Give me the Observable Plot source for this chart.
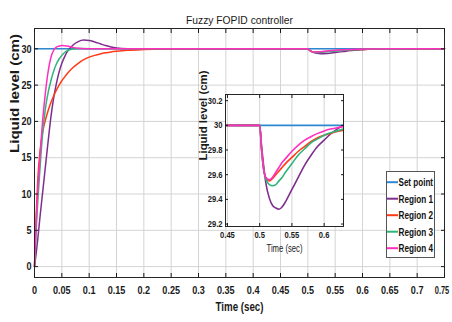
<!DOCTYPE html>
<html><head><meta charset="utf-8">
<script src="https://cdn.jsdelivr.net/npm/d3@7"></script>
<script src="https://cdn.jsdelivr.net/npm/@observablehq/plot@0.6"></script>
<style>
body{margin:0;background:#fff;}
#wrap{position:relative;width:452px;height:322px;overflow:hidden;font-family:"Liberation Sans",Arial,sans-serif;}
#wrap svg{position:absolute;overflow:visible;}
</style></head><body><div id="wrap"></div>
<script>
const time = [0, 0.003, 0.006, 0.01, 0.015, 0.02, 0.025, 0.03, 0.035, 0.04, 0.045, 0.05, 0.055, 0.06, 0.07, 0.08, 0.09, 0.1, 0.11, 0.12, 0.13, 0.14, 0.15, 0.17, 0.2, 0.25, 0.3, 0.4, 0.5, 0.503, 0.506, 0.51, 0.515, 0.52, 0.525, 0.53, 0.535, 0.54, 0.55, 0.56, 0.57, 0.58, 0.59, 0.6, 0.61, 0.62, 0.63, 0.65, 0.7, 0.75];
const setPointTime = [0, 0.75];
const setPointLevel = [30, 30];
const region1 = [0, 1.8, 3.8, 6.8, 10.3, 13.8, 17.3, 20.6, 23.2, 25.2, 26.8, 28.0, 28.9, 29.6, 30.5, 31.0, 31.2, 31.15, 30.95, 30.7, 30.45, 30.25, 30.12, 30.02, 30, 30, 30, 30, 30, 29.83, 29.68, 29.52, 29.41, 29.35, 29.33, 29.32, 29.34, 29.38, 29.48, 29.58, 29.68, 29.76, 29.83, 29.88, 29.93, 29.97, 30.0, 30.02, 30.0, 30];
const region2 = [0, 7, 12, 15.8, 18.6, 20.2, 21.5, 22.6, 23.5, 24.3, 25.0, 25.6, 26.1, 26.6, 27.4, 28.0, 28.5, 28.85, 29.1, 29.3, 29.45, 29.57, 29.66, 29.8, 29.9, 29.97, 30, 30, 30, 29.8, 29.65, 29.57, 29.55, 29.57, 29.6, 29.63, 29.66, 29.69, 29.74, 29.79, 29.83, 29.87, 29.9, 29.92, 29.935, 29.95, 29.96, 29.97, 29.99, 30];
const region3 = [0, 5, 9, 13.5, 18.5, 21.8, 24.0, 25.6, 26.9, 27.9, 28.6, 29.1, 29.5, 29.75, 29.98, 30.05, 30.04, 30.02, 30.01, 30, 30, 30, 30, 30, 30, 30, 30, 30, 30, 29.8, 29.65, 29.56, 29.52, 29.51, 29.52, 29.55, 29.58, 29.62, 29.69, 29.76, 29.81, 29.86, 29.89, 29.92, 29.94, 29.955, 29.97, 29.98, 30, 30];
const region4 = [0, 6, 10.5, 15, 20.2, 24.0, 26.9, 28.8, 29.8, 30.25, 30.38, 30.45, 30.43, 30.38, 30.2, 30.08, 30.02, 30, 30, 30, 30, 30, 30, 30, 30, 30, 30, 30, 30, 29.8, 29.65, 29.575, 29.56, 29.58, 29.62, 29.66, 29.7, 29.73, 29.79, 29.84, 29.88, 29.91, 29.935, 29.955, 29.97, 29.98, 29.99, 30, 30, 30];
const seriesNames = ["Set point", "Region 1", "Region 2", "Region 3", "Region 4"];
const seriesColors = ["#2f88d2", "#7e2f8e", "#ff3b16", "#2fb57c", "#ff2fc0"];
const xTicks = [0, 0.05, 0.1, 0.15, 0.2, 0.25, 0.3, 0.35, 0.4, 0.45, 0.5, 0.55, 0.6, 0.65, 0.7, 0.75];
const xTickLabels = ["0", "0.05", "0.1", "0.15", "0.2", "0.25", "0.3", "0.35", "0.4", "0.45", "0.5", "0.55", "0.6", "0.65", "0.7", "0.75"];
const yTicks = [0, 5, 10, 15, 20, 25, 30];
const yTickLabels = ["0", "5", "10", "15", "20", "25", "30"];
const insetXTicks = [0.45, 0.5, 0.55, 0.6];
const insetXTickLabels = ["0.45", "0.5", "0.55", "0.6"];
const insetYTicks = [29.2, 29.4, 29.6, 29.8, 30, 30.2];
const insetYTickLabels = ["29.2", "29.4", "29.6", "29.8", "30", "30.2"];
const titleText = "Fuzzy FOPID controller";
const xLabel = "Time (sec)";
const yLabel = "Liquid level (cm)";

const FONT = '"Liberation Sans",Arial,sans-serif';
const rows = [];
setPointTime.forEach((t, i) => rows.push({series: seriesNames[0], t, v: setPointLevel[i]}));
[region1, region2, region3, region4].forEach((arr, k) =>
  arr.forEach((v, i) => rows.push({series: seriesNames[k + 1], t: time[i], v})));

const fmt = (ticks, labels) => d => { const i = ticks.findIndex(t => Math.abs(t - d) < 1e-9); return i < 0 ? "" : labels[i]; };
const wrap = document.getElementById("wrap");

// condense text horizontally (the reference uses a narrow face)
function squeeze(svg, factor, targets) {
  svg.querySelectorAll("text").forEach(t => {
    const s = t.textContent;
    if (!s) return;
    const len = t.getComputedTextLength();
    if (!len) return;
    const target = targets[s] != null ? targets[s] : len * factor;
    t.setAttribute("textLength", target);
    t.setAttribute("lengthAdjust", "spacingAndGlyphs");
  });
}

const main = Plot.plot({
  width: 452, height: 322,
  marginLeft: 34, marginRight: 8, marginTop: 28, marginBottom: 45,
  x: {domain: [0, 0.75], label: null},
  y: {domain: [-1.5, 32.8], label: null},
  color: {domain: seriesNames, range: seriesColors},
  style: {fontFamily: FONT, background: "transparent", color: "#1a1a1a"},
  marks: [
    Plot.ruleX(xTicks, {stroke: "#d4d4d4", strokeWidth: 1}),
    Plot.ruleY(yTicks, {stroke: "#d4d4d4", strokeWidth: 1}),
    Plot.line(rows, {x: "t", y: "v", z: "series", stroke: "series", strokeWidth: 1.5, curve: "monotone-x"}),
    Plot.frame({stroke: "#262626", strokeWidth: 1}),
    Plot.axisX(xTicks, {anchor: "bottom", tickSize: -4, tickPadding: 12, tickFormat: fmt(xTicks, xTickLabels), fontSize: 11.5, fontWeight: "bold", label: null}),
    Plot.axisX(xTicks, {anchor: "top", tickSize: -4, tickFormat: () => "", label: null}),
    Plot.axisY(yTicks, {anchor: "left", tickSize: -4, tickPadding: 7, tickFormat: fmt(yTicks, yTickLabels), fontSize: 11.5, fontWeight: "bold", label: null}),
    Plot.axisY(yTicks, {anchor: "right", tickSize: -4, tickFormat: () => "", label: null}),
    Plot.text([titleText], {frameAnchor: "top", dy: -13, fontSize: 11.5, text: d => d}),
    Plot.text([xLabel], {frameAnchor: "bottom", dy: 33, fontSize: 13, fontWeight: "bold", text: d => d}),
    Plot.text([yLabel], {frameAnchor: "left", dx: -20, rotate: -90, fontSize: 12.5, fontWeight: "bold", text: d => d})
  ]
});
main.style.left = "0px"; main.style.top = "0px";
wrap.appendChild(main);
squeeze(main, 0.79, {[titleText]: 107, [xLabel]: 48, [yLabel]: 119, "0.75": 14.5});
// keep the last tick label inside the picture edge
main.querySelectorAll("text").forEach(t => { if (t.textContent === "0.75") t.setAttribute("dx", -2.5); });

const insetRows = rows.filter(d => d.series === seriesNames[0] || (d.t >= 0.4 && d.t <= 0.7));
const inset = Plot.plot({
  width: 154, height: 172,
  marginLeft: 33, marginRight: 3, marginTop: 6, marginBottom: 34,
  x: {domain: [0.447, 0.63], label: null},
  y: {domain: [29.18, 30.25], label: null},
  color: {domain: seriesNames, range: seriesColors},
  style: {fontFamily: FONT, background: "transparent", color: "#1a1a1a"},
  marks: [
    Plot.frame({fill: "white"}),
    Plot.ruleX(insetXTicks, {stroke: "#d4d4d4", strokeWidth: 1}),
    Plot.line(insetRows, {x: "t", y: "v", z: "series", stroke: "series", strokeWidth: 1.6, curve: "monotone-x", clip: true}),
    Plot.frame({stroke: "#262626", strokeWidth: 1}),
    Plot.axisX(insetXTicks, {anchor: "bottom", tickSize: -3, tickPadding: 8, tickFormat: fmt(insetXTicks, insetXTickLabels), fontSize: 9.5, fontWeight: "bold", label: null}),
    Plot.axisX(insetXTicks, {anchor: "top", tickSize: -3, tickFormat: () => "", label: null}),
    Plot.axisY(insetYTicks, {anchor: "left", tickSize: -3, tickPadding: 6, tickFormat: fmt(insetYTicks, insetYTickLabels), fontSize: 9.5, fontWeight: "bold", label: null}),
    Plot.axisY(insetYTicks, {anchor: "right", tickSize: -3, tickFormat: () => "", label: null}),
    Plot.text([xLabel], {frameAnchor: "bottom", dy: 25, fontSize: 10, text: d => d}),
    Plot.text([yLabel], {frameAnchor: "left", dx: -22, rotate: -90, fontSize: 10.5, fontWeight: "bold", text: d => d})
  ]
});
inset.style.left = "192px"; inset.style.top = "88px";
wrap.appendChild(inset);
squeeze(inset, 0.8, {[xLabel]: 36, [yLabel]: 90});

// legend box (SVG so the text can be condensed like the reference)
const lg = d3.select(wrap).append("svg")
  .attr("width", 49).attr("height", 87)
  .style("left", "385.5px").style("top", "170.5px")
  .style("font-family", FONT);
lg.append("rect").attr("x", 0.5).attr("y", 0.5).attr("width", 48).attr("height", 86)
  .attr("fill", "white").attr("stroke", "#555").attr("stroke-width", 1);
seriesNames.forEach((name, i) => {
  const cy = 11.2 + i * 16.5;
  lg.append("line").attr("x1", 1).attr("x2", 12).attr("y1", cy).attr("y2", cy)
    .attr("stroke", seriesColors[i]).attr("stroke-width", 2);
  lg.append("text").attr("x", 12.5).attr("y", cy).attr("dy", "0.36em")
    .attr("font-size", 11).attr("font-weight", "bold").attr("fill", "#111")
    .attr("textLength", 34.5).attr("lengthAdjust", "spacingAndGlyphs")
    .text(name);
});
</script></body></html>
